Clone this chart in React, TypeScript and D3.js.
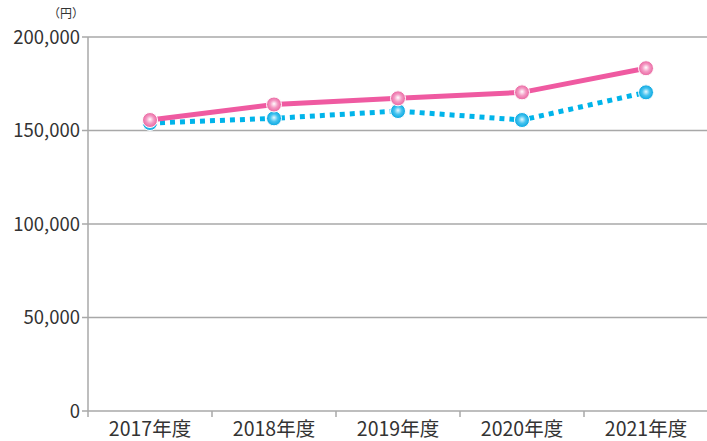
import React from "react";
import * as d3 from "d3";

const categories = ["2017年度", "2018年度", "2019年度", "2020年度", "2021年度"];
const pinkValues = [155600, 163900, 167200, 170400, 183300];
const blueValues = [154000, 156500, 160400, 155600, 170400];
const yTicks = [0, 50000, 100000, 150000, 200000];

const W = 707;
const H = 441;
const M = { left: 88, right: 707, top: 37, bottom: 411 };

export default function App() {
  const x = d3.scaleBand<string>().domain(categories).range([M.left, M.right + 1]).padding(0);
  const y = d3.scaleLinear().domain([0, 200000]).range([M.bottom, M.top]);
  const cx = (c: string) => (x(c) as number) + x.bandwidth() / 2;
  const line = d3
    .line<number>()
    .x((_, i) => cx(categories[i]))
    .y((d) => y(d));
  const fmt = d3.format(",");
  const font = "'Noto Sans CJK JP', 'Noto Sans', sans-serif";
  return (
    <svg width={W} height={H} style={{ position: "absolute", left: 0, top: 0 }}>
      <defs>
        <radialGradient id="gp" cx="50%" cy="50%" r="50%" fx="50%" fy="45%">
          <stop offset="0%" stopColor="#ffffff" />
          <stop offset="50%" stopColor="#f49ac4" />
          <stop offset="100%" stopColor="#e9649f" />
        </radialGradient>
        <radialGradient id="gb" cx="50%" cy="50%" r="50%" fx="50%" fy="45%">
          <stop offset="0%" stopColor="#e6f8ff" />
          <stop offset="50%" stopColor="#45c3ef" />
          <stop offset="100%" stopColor="#07a6e0" />
        </radialGradient>
      </defs>
      {yTicks.map((t) => (
        <g key={t}>
          <line x1={M.left - 6} x2={M.right} y1={y(t)} y2={y(t)} stroke="#a8a8a8" strokeWidth={1.5} />
          <text x={M.left - 8} y={y(t)} dy="0.36em" textAnchor="end" fontSize={18.5} fill="#333" fontFamily={font}>
            {fmt(t)}
          </text>
        </g>
      ))}
      <line x1={M.left} x2={M.left} y1={M.top} y2={M.bottom + 6} stroke="#a8a8a8" strokeWidth={1.5} />
      {categories.slice(1).map((c) => (
        <line key={c} x1={x(c) as number} x2={x(c) as number} y1={M.bottom} y2={M.bottom + 6} stroke="#a8a8a8" strokeWidth={1.5} />
      ))}
      {categories.map((c) => (
        <text key={c} x={cx(c)} y={436} textAnchor="middle" fontSize={19.5} fill="#333" fontFamily={font}>
          {c}
        </text>
      ))}
      <text x={66} y={18} textAnchor="middle" fontSize={12} fill="#333" fontFamily={font}>
        （円）
      </text>
      <path d={line(blueValues) || ""} fill="none" stroke="#00b4ea" strokeWidth={5} strokeDasharray="5 5" />
      <path d={line(pinkValues) || ""} fill="none" stroke="#ef5aa1" strokeWidth={5} />
      {blueValues.map((v, i) => (
        <circle key={"b" + i} cx={cx(categories[i])} cy={y(v)} r={7.5} fill="url(#gb)" stroke="#fff" strokeWidth={1} />
      ))}
      {pinkValues.map((v, i) => (
        <circle key={"p" + i} cx={cx(categories[i])} cy={y(v)} r={7.5} fill="url(#gp)" stroke="#fff" strokeWidth={1} />
      ))}
    </svg>
  );
}
